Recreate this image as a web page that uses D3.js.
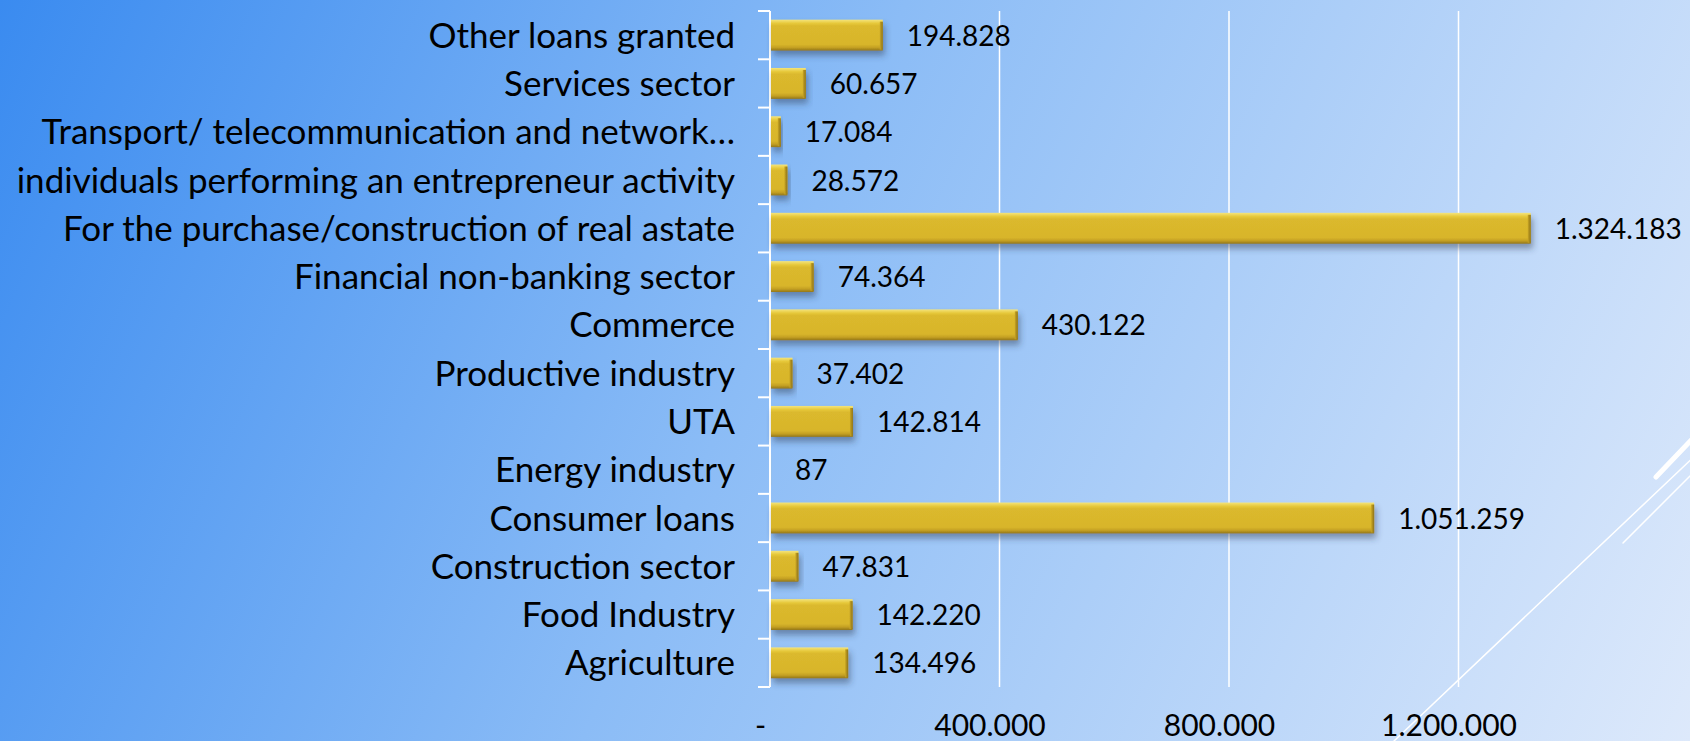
<!DOCTYPE html>
<meta charset="utf-8">
<style>

body {
  margin: 0;
  overflow: hidden;
}

* {
  font-family: Lato, "Open Sans", sans-serif;
}

.grid line {
  stroke: #fff;
  stroke-width: 1.5px;
}

</style>
<body>

<script src="https://cdn.jsdelivr.net/npm/d3@7"></script>
<script>

// categories, top to bottom as in the chart
var categories = [
  "Other loans granted",
  "Services sector",
  "Transport/ telecommunication and network…",
  "individuals performing an entrepreneur activity",
  "For the purchase/construction of real astate",
  "Financial non-banking sector",
  "Commerce",
  "Productive industry",
  "UTA",
  "Energy industry",
  "Consumer loans",
  "Construction sector",
  "Food Industry",
  "Agriculture"
];

var values = [194828, 60657, 17084, 28572, 1324183, 74364, 430122, 37402, 142814, 87, 1051259, 47831, 142220, 134496];

var tickValues = [0, 400000, 800000, 1200000];

var data = categories.map(function(c, i) { return {name: c, value: values[i]}; });

var width = 1690, height = 741;

var svg = d3.select("body").append("svg")
    .attr("width", width)
    .attr("height", height);

var defs = svg.append("defs");

// slide background
var bg = defs.append("linearGradient")
    .attr("id", "bg")
    .attr("gradientUnits", "userSpaceOnUse")
    .attr("x1", 0).attr("y1", 0)
    .attr("x2", width).attr("y2", height);
bg.append("stop").attr("offset", "0%").attr("stop-color", "#3a8bf0");
bg.append("stop").attr("offset", "45%").attr("stop-color", "#8bbcf6");
bg.append("stop").attr("offset", "100%").attr("stop-color", "#dde9fb");

// bevelled gold bars
var gold = defs.append("linearGradient")
    .attr("id", "gold")
    .attr("x1", 0).attr("y1", 0).attr("x2", 0).attr("y2", 1);
[["0%", "#f4e47c"], ["12%", "#e6c83a"], ["20%", "#dbb92d"], ["80%", "#d8b52b"], ["90%", "#c4a023"], ["100%", "#927619"]]
  .forEach(function(s) { gold.append("stop").attr("offset", s[0]).attr("stop-color", s[1]); });

var goldEnd = defs.append("linearGradient")
    .attr("id", "goldEnd")
    .attr("x1", 0).attr("y1", 0).attr("x2", 1).attr("y2", 0);
goldEnd.append("stop").attr("offset", "0%").attr("stop-color", "#c9a624");
goldEnd.append("stop").attr("offset", "100%").attr("stop-color", "#8e7318");

var shadow = defs.append("filter")
    .attr("id", "shadow")
    .attr("x", "-10%").attr("y", "-50%")
    .attr("width", "130%").attr("height", "220%");
shadow.append("feDropShadow")
    .attr("dx", 2).attr("dy", 5)
    .attr("stdDeviation", 3)
    .attr("flood-color", "#2b3a55")
    .attr("flood-opacity", 0.45);

svg.append("rect")
    .attr("width", width)
    .attr("height", height)
    .attr("fill", "url(#bg)");

// theme decoration lines, bottom right
var deco = svg.append("g")
    .attr("stroke", "#fff")
    .attr("fill", "none")
    .attr("stroke-linecap", "round");
deco.append("line").attr("x1", 1394).attr("y1", 741).attr("x2", 1700).attr("y2", 451).attr("stroke-width", 1.5);
deco.append("line").attr("x1", 1623).attr("y1", 543).attr("x2", 1700).attr("y2", 466).attr("stroke-width", 1.5);
deco.append("line").attr("x1", 1656).attr("y1", 477).attr("x2", 1700).attr("y2", 431).attr("stroke-width", 5);

var x = d3.scaleLinear()
    .domain([0, 1600000])
    .range([770, 1688]);

var y = d3.scaleBand()
    .domain(categories)
    .range([11, 687])
    .paddingInner(0.36)
    .paddingOuter(0.18);

var fmt = d3.formatLocale({decimal: ",", thousands: ".", grouping: [3], currency: ["", ""]}).format(",d");

// gridlines
svg.append("g")
    .attr("class", "grid")
  .selectAll("line")
  .data(tickValues.filter(function(d) { return d > 0; }))
  .enter().append("line")
    .attr("x1", function(d) { return x(d); })
    .attr("x2", function(d) { return x(d); })
    .attr("y1", y.range()[0])
    .attr("y2", y.range()[1]);

// bottom tick labels (no axis line)
var xAxis = svg.append("g")
    .attr("transform", "translate(-10," + 736 + ")")
    .call(d3.axisBottom(x)
      .tickValues(tickValues)
      .tickSize(0)
      .tickPadding(0)
      .tickFormat(function(d) { return d === 0 ? "-" : fmt(d); }));
xAxis.select(".domain").remove();
xAxis.selectAll("text")
    .attr("dy", 0)
    .attr("font-size", "30px")
    .attr("font-family", "Lato")
    .attr("fill", "#000");

// category axis, white bracket style
var yAxis = svg.append("g");
yAxis.append("line")
    .attr("x1", x(0)).attr("x2", x(0))
    .attr("y1", y.range()[0]).attr("y2", y.range()[1])
    .attr("stroke", "#fff")
    .attr("stroke-width", 2);
yAxis.selectAll("line.tick")
  .data(d3.range(categories.length + 1))
  .enter().append("line")
    .attr("class", "tick")
    .attr("x1", x(0) - 12).attr("x2", x(0))
    .attr("y1", function(i) { return y.range()[0] + i * y.step(); })
    .attr("y2", function(i) { return y.range()[0] + i * y.step(); })
    .attr("stroke", "#fff")
    .attr("stroke-width", 2);

yAxis.selectAll("text")
  .data(categories)
  .enter().append("text")
    .attr("x", x(0) - 35)
    .attr("y", function(d) { return y(d) + y.bandwidth() / 2; })
    .attr("dy", "0.36em")
    .attr("text-anchor", "end")
    .attr("font-size", "35px")
    .attr("fill", "#000")
    .text(function(d) { return d; });

// bars
var bars = svg.append("g")
    .selectAll("g")
    .data(data)
    .enter().append("g")
    .attr("filter", function(d) { return d.value > 1000 ? "url(#shadow)" : null; });

bars.append("rect")
    .attr("x", x(0) + 1)
    .attr("y", function(d) { return y(d.name); })
    .attr("width", function(d) { return Math.max(0, x(d.value) - x(0)); })
    .attr("height", y.bandwidth())
    .attr("fill", "url(#gold)");

bars.filter(function(d) { return d.value > 1000; })
  .append("rect")
    .attr("x", function(d) { return x(d.value) - 2; })
    .attr("y", function(d) { return y(d.name) + 2; })
    .attr("width", 3)
    .attr("height", y.bandwidth() - 3)
    .attr("fill", "url(#goldEnd)");

// value labels
svg.append("g")
    .selectAll("text")
    .data(data)
    .enter().append("text")
    .attr("x", function(d) { return x(d.value) + 25; })
    .attr("y", function(d) { return y(d.name) + y.bandwidth() / 2; })
    .attr("dy", "0.38em")
    .attr("font-size", "28px")
    .attr("fill", "#000")
    .text(function(d) { return fmt(d.value); });

</script>
</body>
</html>
